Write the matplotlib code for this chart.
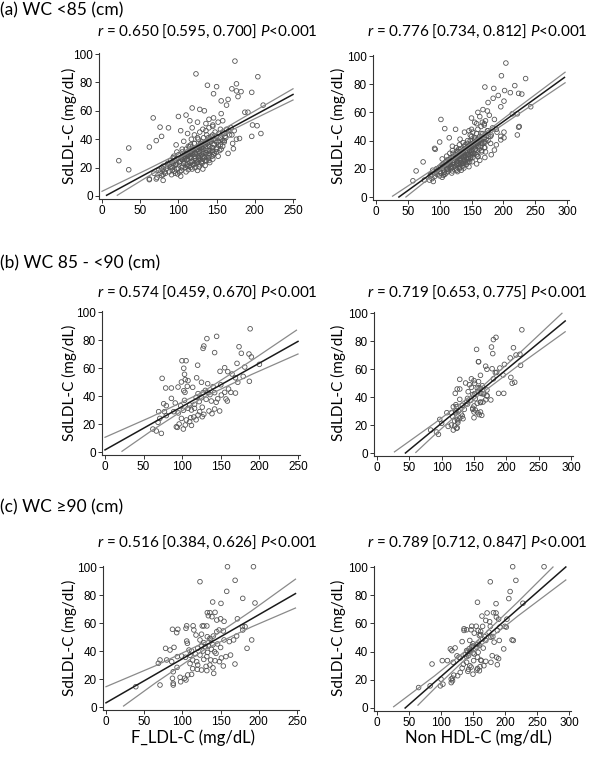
import matplotlib
matplotlib.use('Agg')
import matplotlib.pyplot as plt

plt.rcParams['font.family'] = ['Lato', 'DejaVu Sans']
plt.rcParams['mathtext.fontset'] = 'custom'
plt.rcParams['mathtext.rm'] = 'Lato'
plt.rcParams['mathtext.it'] = 'Lato:italic'

##################################################################
############################ Données #############################
##################################################################

# ---------- (a) WC <85 ---------- #
a_sd = [95, 86, 84, 79, 78, 77, 75.5, 74, 73.5, 73, 72, 70, 68, 67, 64, 64, 62, 61, 60, 59,
        59, 58, 57, 56, 55, 55, 54, 53, 52, 50, 49.5, 48.5, 48, 48, 47, 46, 46, 45, 44, 44,
        43, 42, 42, 41, 41, 40.5, 40, 40, 39, 39, 38.5, 38, 38, 37, 37, 36, 36, 35.5, 35, 35,
        34.5, 34, 34, 33.8, 33.3, 33, 33, 32.5, 32, 32, 31.5, 31, 31, 30.5, 30, 30, 30, 29.5, 29, 29,
        28.5, 28, 28, 28, 27.5, 27, 27, 26.5, 26, 26, 25.5, 25, 25, 24.9, 24.5, 24, 24, 23.5, 23, 23,
        22.5, 22, 22, 21.5, 21, 21, 20.5, 20, 20, 19.5, 19, 19, 18.5, 18.5, 18, 18, 17.5, 17, 17, 16,
        16, 15.5, 15, 14.5, 14, 13, 12, 12, 11, 11.5,
        45, 43, 42, 41, 40, 39, 38, 37, 36, 36, 35, 34, 33, 33, 32, 31, 31, 30, 30, 29,
        29, 28, 28, 27, 27, 26, 26, 25, 25, 24, 24, 23, 23, 22, 21, 20, 20, 19, 18, 17,
        16, 44, 47, 49, 51, 53, 46, 48, 43, 40,
        20, 20.5, 21, 21.5, 22, 22.5, 23, 23.5, 24, 24.5, 25, 25.5, 26, 26.5, 27, 27.5, 28, 28.5, 29, 29.5,
        30, 30.5, 31, 31.5, 32, 32.5, 33, 33.5, 34, 34.5, 35, 35.5, 36, 36.5, 37, 37.5, 38, 38.5, 39, 39.5,
        40, 41, 42, 43, 44, 22, 24, 26, 28, 30, 32, 34, 36, 38, 27, 29, 31, 33, 35, 37,
        25, 27, 29, 31, 33, 18, 19, 20, 21, 22, 23, 24, 17, 16, 15, 19, 26, 28, 30, 32,
        34, 36, 38, 40, 42, 45, 47, 43, 41, 39, 50, 52, 48, 46]
a_ldl = [174, 123, 204, 176, 138, 150, 170, 176, 182, 196, 146, 178, 165, 156, 163, 211, 118, 128, 134, 187,
         191, 156, 110, 100, 67, 146, 140, 158, 125, 197, 203, 76, 87, 118, 132, 103, 166, 148, 208, 112,
         137, 78, 196, 155, 125, 180, 117, 142, 71, 160, 107, 131, 150, 121, 171, 97, 139, 128, 113, 158,
         62, 123, 145, 35, 172, 105, 133, 118, 141, 154, 127, 98, 112, 136, 122, 147, 165, 108, 130, 119,
         140, 94, 126, 152, 115, 134, 104, 121, 145, 128, 111, 90, 137, 22, 118, 125, 101, 141, 131, 86,
         112, 120, 96, 135, 106, 80, 127, 116, 92, 100, 132, 84, 35, 113, 74, 104, 95, 88, 110, 83,
         68, 99, 91, 78, 103, 72, 62, 71, 80, 62,
         128, 121, 143, 133, 126, 148, 136, 129, 116, 152, 141, 130, 124, 150, 137, 131, 145, 116, 128, 137,
         111, 121, 144, 127, 117, 132, 108, 123, 140, 115, 130, 121, 107, 128, 114, 122, 109, 118, 125, 102,
         96, 160, 155, 145, 136, 115, 173, 169, 167, 176,
         78, 90, 86, 94, 88, 97, 93, 92, 101, 103, 96, 105, 104, 98, 109, 106, 111, 113, 114, 110,
         118, 115, 121, 117, 124, 120, 125, 122, 131, 127, 132, 129, 135, 131, 138, 134, 141, 136, 143, 140,
         146, 139, 150, 145, 153, 110, 118, 126, 132, 140, 144, 150, 155, 160, 93, 100, 105, 110, 115, 121,
         135, 139, 146, 150, 156, 92, 98, 104, 112, 119, 124, 130, 82, 76, 80, 80, 112, 128, 133, 139,
         144, 147, 152, 157, 161, 158, 163, 170, 162, 158, 145, 152, 140, 136]
a_nh = [204, 197, 235, 218, 171, 185, 202, 211, 224, 229, 192, 184, 201, 176, 196, 243, 168, 175, 160, 214,
        222, 178, 163, 150, 102, 186, 172, 167, 158, 225, 224, 108, 125, 150, 146, 139, 190, 165, 222, 148,
        180, 115, 201, 155, 132, 196, 144, 152, 100, 172, 137, 160, 180, 140, 189, 120, 151, 155, 146, 170,
        92, 130, 162, 93, 186, 128, 147, 138, 166, 172, 141, 121, 133, 153, 149, 158, 181, 129, 140, 138,
        160, 118, 152, 171, 131, 148, 130, 139, 163, 133, 128, 115, 151, 74, 141, 136, 121, 158, 142, 104,
        127, 135, 114, 146, 121, 102, 138, 126, 111, 113, 134, 97, 63, 120, 95, 113, 107, 102, 119, 96,
        86, 106, 100, 92, 104, 88, 76, 84, 90, 58,
        158, 150, 170, 163, 162, 158, 168, 150, 145, 165, 171, 156, 147, 166, 143, 155, 150, 139, 144, 160,
        134, 142, 149, 145, 132, 139, 122, 144, 147, 129, 137, 131, 117, 137, 131, 131, 118, 127, 128, 110,
        108, 181, 175, 183, 170, 155, 201, 189, 196, 176,
        95, 104, 99, 110, 102, 108, 112, 106, 115, 120, 110, 117, 122, 113, 125, 119, 128, 122, 131, 126,
        134, 129, 137, 132, 140, 135, 143, 138, 146, 141, 149, 144, 153, 147, 156, 150, 158, 153, 161, 157,
        165, 160, 168, 163, 171, 118, 127, 132, 138, 145, 150, 156, 161, 166, 104, 111, 116, 120, 126, 131,
        139, 143, 148, 152, 158, 100, 105, 112, 118, 124, 128, 133, 92, 88, 85, 89, 116, 121, 125, 129,
        133, 139, 143, 148, 155, 168, 176, 177, 173, 170, 165, 170, 160, 152]

# ---------- (b) WC 85 - <90 ---------- #
b_sd = [88, 81, 82.6, 74, 75.7, 75.2, 65.2, 65.2, 71, 70.5, 70, 67.9, 63.3, 62.6, 60.7, 59.8, 55.5, 51.7, 52.6, 57.6,
        60.2, 57.4, 55.7, 53, 54, 49.8, 50.5, 51, 50, 46.4, 45.7, 45.7, 46.9, 43.8, 42.6, 46.2, 53, 49.8, 48.8, 46.7,
        42.4, 41.7, 42.4, 42.6, 42.6, 42.6, 42.1, 40.7, 37.9, 36.4, 38.3, 34.5, 35, 36.9, 33.6, 34, 38.8, 37.6, 36.4, 35.5,
        33.1, 28.8, 28.8, 24, 28.8, 27.9, 29.8, 31.2, 31.2, 28.8, 26.9, 29.3, 29.3, 30.7, 24, 22.9, 24.5, 26.4, 18, 17.6,
        19.3, 21.7, 16.4, 21.2, 26, 16.4, 15, 13.3, 25.2, 27.4, 25, 20, 19, 23, 32, 44, 41, 39, 36, 30,
        33, 62, 48, 45, 38]
b_ldl = [188, 132, 144.6, 127, 128, 173.6, 99.7, 105, 142, 176.6, 186.5, 189.6, 171, 200, 181, 102, 103, 104, 74, 149,
         155, 159, 164.5, 169, 179, 172, 187, 107.5, 99, 94.6, 86, 78.6, 106.6, 102, 103.6, 113.6, 118.7, 125, 133, 140,
         142, 120.5, 127, 133.4, 155, 163, 169, 150.7, 156.7, 158.5, 86, 76, 91, 103, 109.7, 116, 125, 131, 137.7, 144,
         79.4, 69.5, 77, 71, 89, 95, 101.5, 107.5, 116, 122.6, 128, 134.7, 148.5, 142, 99, 105.4, 111, 120.5, 92.4, 93.7,
         104, 109.7, 101.5, 68.7, 79.4, 62, 66.5, 73, 126, 138.6, 115, 96, 112, 118, 126, 130, 136, 118, 122, 112,
         98, 120, 150, 160, 146]
b_nh = [224, 180, 184, 154, 177, 211, 157, 157, 179, 221, 215, 206, 197, 222, 190, 170, 160, 150, 128, 185,
        178, 183, 195, 180, 207, 209, 213, 157, 137, 155, 128, 124, 146, 141, 121, 160, 146, 151, 143, 158,
        151, 148, 162, 160, 196, 188, 165, 170, 176, 160, 128, 122, 140, 139, 150, 132, 152, 145, 164, 155,
        123, 108, 115, 97, 122, 130, 126, 135, 148, 156, 162, 150, 160, 152, 124, 120, 133, 132, 124, 123,
        120, 125, 118, 100, 117, 83, 92, 95, 150, 158, 128, 115, 110, 125, 148, 156, 170, 140, 160, 122,
        118, 168, 163, 170, 168]

# ---------- (c) WC >=90 ---------- #
c_sd = [100.2, 100.2, 89.5, 90.5, 82.6, 77.6, 74.3, 75, 74, 67.4, 67.4, 67.6, 65.2, 64.5, 62.1, 63, 61.2, 63, 57.9, 57.9,
        57.9, 58, 55, 55.5, 55.5, 53.1, 58, 56.2, 55, 54.3, 57.4, 57.4, 55, 53.8, 50.7, 51.4, 47.9, 47.1, 45.5, 50.2,
        48.3, 46, 43.6, 47.9, 46.7, 47.9, 50.7, 47.9, 41.9, 41.9, 40.7, 42.6, 40.7, 40, 36.4, 35.5, 36, 33.6, 32.4, 37.1,
        36, 41.2, 38.3, 33.6, 33.1, 32.4, 36, 37.1, 30.7, 29.3, 27.4, 26.9, 26.4, 29, 30, 22.9, 23.3, 21.2, 20.5, 25.2,
        28.3, 32.4, 33.6, 33.6, 31.2, 20.5, 16.9, 15.7, 18, 19.3, 15.7, 14.5,
        44, 43, 42, 40, 39, 38, 44.5, 45, 42.5, 39.5, 30, 28, 34, 31, 49, 52, 37, 26, 24, 35]
c_ldl = [159, 193, 123, 169, 158, 179, 195, 139.6, 150.5, 132.6, 136, 142.7, 134, 138.7, 145, 150, 154.5, 172, 126, 128,
         132, 114, 115, 87, 94, 92.5, 105.6, 104.7, 148, 153.6, 178.5, 182, 179, 145, 140.5, 117.8, 123, 105.6, 106.5, 132.6,
         137, 128, 134, 154.5, 161.4, 167, 171, 190.7, 184.6, 78, 83.8, 89, 108.6, 112, 99, 104, 93.4, 113.4, 118.7, 123,
         132, 138, 144, 137, 142.7, 148.5, 157, 163, 168.8, 153.6, 113.4, 119.5, 125, 131, 136, 107, 112, 97, 103, 88,
         93, 86, 79.4, 70.7, 68.5, 87, 88, 88, 97.7, 104.7, 70.7, 39,
         125, 130, 120, 127, 133, 117, 140, 146, 150, 142, 120, 140, 128, 110, 136, 125, 110, 132, 141, 151]
c_nh = [212, 261, 177, 217, 208, 206, 228, 157, 186, 172, 186, 182, 164, 186.5, 170, 203, 176, 190, 177, 200,
        165, 148, 136, 140, 147, 152, 155, 136, 158, 162, 192, 202, 188, 175, 168, 160, 145, 133, 150, 178,
        211, 158, 148, 170, 183, 191, 181, 213, 198, 114.6, 117, 122, 140, 145, 140, 130, 128, 151, 140, 143,
        157, 147, 152, 163, 170, 178, 187, 180, 188, 161, 143, 156, 160, 147, 167, 126, 120, 118, 116, 130,
        133, 119, 110, 102, 86, 100, 103, 99, 116, 118, 83, 65,
        150, 156, 144, 141, 150, 138, 160, 156, 166, 158, 145, 157, 162, 135, 165, 162, 125, 142, 150, 190]

# ---------- Titres ---------- #
row_labels = ['(a) WC <85 (cm)', '(b) WC 85 - <90 (cm)', '(c) WC \u226590 (cm)']
titles_ldl = [r'$r$ = 0.650 [0.595, 0.700] $P$<0.001',
              r'$r$ = 0.574 [0.459, 0.670] $P$<0.001',
              r'$r$ = 0.516 [0.384, 0.626] $P$<0.001']
titles_nh = [r'$r$ = 0.776 [0.734, 0.812] $P$<0.001',
             r'$r$ = 0.719 [0.653, 0.775] $P$<0.001',
             r'$r$ = 0.789 [0.712, 0.847] $P$<0.001']

# ---------- Droites de régression et bandes ---------- #
# ([x], [y]) pour la droite, la bande haute et la bande basse
a_ldl_fit = ([6, 250], [0.5, 71.5])
a_ldl_up = ([0, 60, 127, 190, 250], [3.3, 18.9, 37.0, 56.8, 75.5])
a_ldl_lo = ([20, 60, 127, 190, 250], [0.5, 13.7, 34.8, 51.8, 67.6])
a_nh_fit = ([36, 296], [0.0, 84.8])
a_nh_up = ([26, 90, 150, 220, 297], [0.6, 19.7, 38.2, 62.4, 88.5])
a_nh_lo = ([47, 90, 150, 220, 297], [0.0, 15.5, 36.2, 57.6, 81.0])

b_ldl_fit = ([0, 250], [1.5, 79.0])
b_ldl_up = ([0, 60, 125, 190, 248], [10.5, 25.1, 42.3, 65.4, 87.0])
b_ldl_lo = ([22, 60, 125, 190, 250], [0.5, 15.1, 38.3, 55.4, 70.0])
b_nh_fit = ([44, 291], [0.0, 94.3])
b_nh_up = ([27, 90, 155, 220, 286], [0.8, 21.6, 44.3, 71.2, 99.8])
b_nh_lo = ([60, 90, 155, 220, 291], [0.4, 13.4, 40.3, 63.0, 86.6])

c_ldl_fit = ([0, 248], [3.0, 81.0])
c_ldl_up = ([0, 65, 130, 190, 248], [14.5, 29.5, 46.4, 68.5, 91.3])
c_ldl_lo = ([23, 65, 130, 190, 248], [0.7, 17.3, 41.4, 57.1, 70.7])
c_nh_fit = ([44, 295], [0.0, 100.0])
c_nh_up = ([26, 90, 150, 220, 275], [0.9, 22.8, 44.8, 75.2, 100.0])
c_nh_lo = ([64, 90, 150, 220, 295], [2.0, 13.8, 39.8, 65.2, 90.8])

##################################################################
############################ Figure ##############################
##################################################################
W, H = 600, 757
fig = plt.figure(figsize=(W / 100, H / 100), dpi=100)


def panel(px, x, y, xmax, fit, up, lo):
    # px = (pixel x de 0, pixel x de xmax, pixel y de 0, pixel y de 100)
    x0, x1, y0, y100 = px
    kx = (x1 - x0) / xmax
    ky = (y0 - y100) / 100
    xlim = (-0.016 * xmax, 1.012 * xmax)
    ylim = (-2.2, 100.5)
    left = x0 + xlim[0] * kx
    right = x0 + xlim[1] * kx
    bottom = y0 - ylim[0] * ky
    top = y0 - ylim[1] * ky
    ax = fig.add_axes([left / W, 1 - bottom / H, (right - left) / W, (bottom - top) / H])
    ax.scatter(x, y, s=11, facecolors='none', edgecolors='#555555', linewidths=0.6, zorder=2, clip_on=False)
    ax.plot(up[0], up[1], color='#8a8a8a', lw=0.9, zorder=3)
    ax.plot(lo[0], lo[1], color='#8a8a8a', lw=0.9, zorder=3)
    ax.plot(fit[0], fit[1], color='#1a1a1a', lw=1.1, zorder=4)
    ax.set_xlim(xlim)
    ax.set_ylim(ylim)
    ax.set_xticks(range(0, xmax + 1, 50))
    ax.set_yticks(range(0, 101, 20))
    for s in ['top', 'right']:
        ax.spines[s].set_visible(False)
    for s in ['left', 'bottom']:
        ax.spines[s].set_linewidth(0.8)
        ax.spines[s].set_color('#333333')
    ax.tick_params(length=3, width=0.7, pad=1.5, color='#333333')
    for lab in ax.get_xticklabels() + ax.get_yticklabels():
        lab.set_fontfamily('Liberation Sans')
        lab.set_fontsize(8.5)
    return ax


rows = [
    (a_sd, a_ldl, a_nh, a_ldl_fit, a_ldl_up, a_ldl_lo, a_nh_fit, a_nh_up, a_nh_lo,
     (102, 293, 196, 54), (376, 567, 197, 56), 10, 31),
    (b_sd, b_ldl, b_nh, b_ldl_fit, b_ldl_up, b_ldl_lo, b_nh_fit, b_nh_up, b_nh_lo,
     (105, 298, 452, 312), (377, 571, 453, 313), 263, 292),
    (c_sd, c_ldl, c_nh, c_ldl_fit, c_ldl_up, c_ldl_lo, c_nh_fit, c_nh_up, c_nh_lo,
     (106, 297, 707, 567), (377, 569, 708, 567), 507, 542),
]

for i, r in enumerate(rows):
    sd, ldl, nh, lf, lu, ll, nf, nu, nl, pl, pr, ylab, ytit = r
    panel(pl, ldl, sd, 250, lf, lu, ll)
    panel(pr, nh, sd, 300, nf, nu, nl)
    fig.text(0, 1 - ylab / H, row_labels[i], ha='left', va='center', fontsize=12.5)
    fig.text(207 / W, 1 - ytit / H, titles_ldl[i], ha='center', va='center', fontsize=11)
    fig.text(477 / W, 1 - ytit / H, titles_nh[i], ha='center', va='center', fontsize=11)
    ymid = (pl[2] + pl[3]) / 2 + 1
    fig.text(69 / W, 1 - ymid / H, 'SdLDL-C (mg/dL)', rotation=90, ha='center', va='center', fontsize=11)
    fig.text(338 / W, 1 - ymid / H, 'SdLDL-C (mg/dL)', rotation=90, ha='center', va='center', fontsize=11)

fig.text(193 / W, 1 - 738 / H, 'F_LDL-C (mg/dL)', ha='center', va='center', fontsize=12)
fig.text(478 / W, 1 - 738 / H, 'Non HDL-C (mg/dL)', ha='center', va='center', fontsize=12)

fig.savefig('out.png', dpi=100)
